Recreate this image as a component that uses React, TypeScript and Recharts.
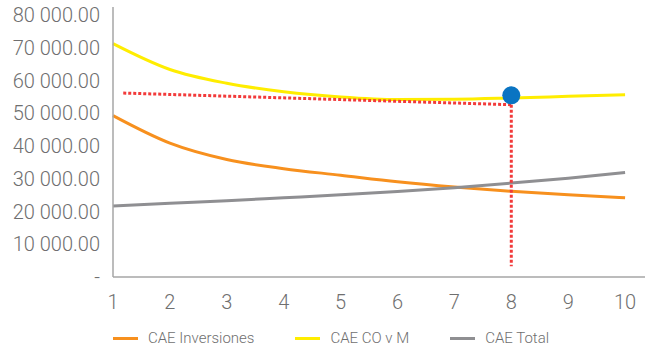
import { LineChart, Line, XAxis, YAxis, Legend, ReferenceLine, ReferenceDot } from 'recharts';

const years = [1, 2, 3, 4, 5, 6, 7, 8, 9, 10];
const caeInversiones = [49300, 40900, 35900, 33100, 31100, 29100, 27500, 26200, 25100, 24200];
const caeCOvM = [71300, 63400, 59200, 56600, 55000, 54200, 54300, 54700, 55200, 55700];
const caeTotal = [21700, 22500, 23300, 24200, 25100, 26100, 27300, 28700, 30200, 31900];
const yTicks = [0, 10000, 20000, 30000, 40000, 50000, 60000, 70000, 80000];

// dotted guide: horizontal-ish line then drop to the x axis
const guideX = [1.18, 8, 8];
const guideY = [56200, 52650, 3300];
const markerX = 8;
const markerY = 55500;

const series = [
  { key: 'inv', name: 'CAE Inversiones', color: '#f7901e' },
  { key: 'co', name: 'CAE CO v M', color: '#ffed00' },
  { key: 'total', name: 'CAE Total', color: '#8f8f92' },
];

const data = years.map((x, i) => ({
  x,
  inv: caeInversiones[i],
  co: caeCOvM[i],
  total: caeTotal[i],
}));

const fmt = (v: number) =>
  v === 0 ? '-' : v.toLocaleString('en-US', { minimumFractionDigits: 2 }).replace(/,/g, ' ');

const font = 'Roboto, "Liberation Sans", sans-serif';
const tickStyle = { fontSize: 20, fill: '#6f6f6f', fontFamily: font, fontWeight: 300 };

function LegendBox() {
  return (
    <div style={{ display: 'flex', paddingLeft: 113, paddingTop: 7, fontFamily: font, fontWeight: 300, fontSize: 15, color: '#6f6f6f' }}>
      {series.map(s => (
        <div key={s.key} style={{ display: 'flex', alignItems: 'center', marginRight: 41 }}>
          <span style={{ display: 'inline-block', width: 25, height: 3, background: s.color, marginRight: 10 }} />
          <span>{s.name}</span>
        </div>
      ))}
    </div>
  );
}

export default function App() {
  return (
    <div style={{ position: 'absolute', left: 0, top: 0, background: '#fff' }}>
      <LineChart width={645} height={350} data={data} margin={{ top: 7, right: 0, bottom: 0, left: 0 }}>
        <XAxis
          dataKey="x"
          type="number"
          domain={[1, 10.35]}
          ticks={years}
          tick={tickStyle}
          tickSize={0}
          tickMargin={18}
          height={45}
          stroke="#a6a6a6"
          strokeWidth={1.5}
        />
        <YAxis
          domain={[0, 82500]}
          ticks={yTicks}
          tickFormatter={fmt}
          tick={tickStyle}
          tickSize={0}
          tickMargin={13}
          width={113}
          stroke="#a6a6a6"
          strokeWidth={1.5}
          interval={0}
        />
        <Legend verticalAlign="bottom" height={28} content={<LegendBox />} wrapperStyle={{ left: 0, width: 645 }} />
        {series.map(s => (
          <Line
            key={s.key}
            dataKey={s.key}
            name={s.name}
            stroke={s.color}
            strokeWidth={3}
            type="monotone"
            dot={false}
            isAnimationActive={false}
          />
        ))}
        <ReferenceLine
          segment={[{ x: guideX[0], y: guideY[0] }, { x: guideX[1], y: guideY[1] }]}
          stroke="#f23a3a"
          strokeWidth={3}
          strokeDasharray="3 2"
        />
        <ReferenceLine
          segment={[{ x: guideX[1], y: guideY[1] }, { x: guideX[2], y: guideY[2] }]}
          stroke="#f23a3a"
          strokeWidth={3}
          strokeDasharray="3 2"
        />
        <ReferenceDot x={markerX} y={markerY} r={9} fill="#0a74c2" stroke="none" />
      </LineChart>
    </div>
  );
}
